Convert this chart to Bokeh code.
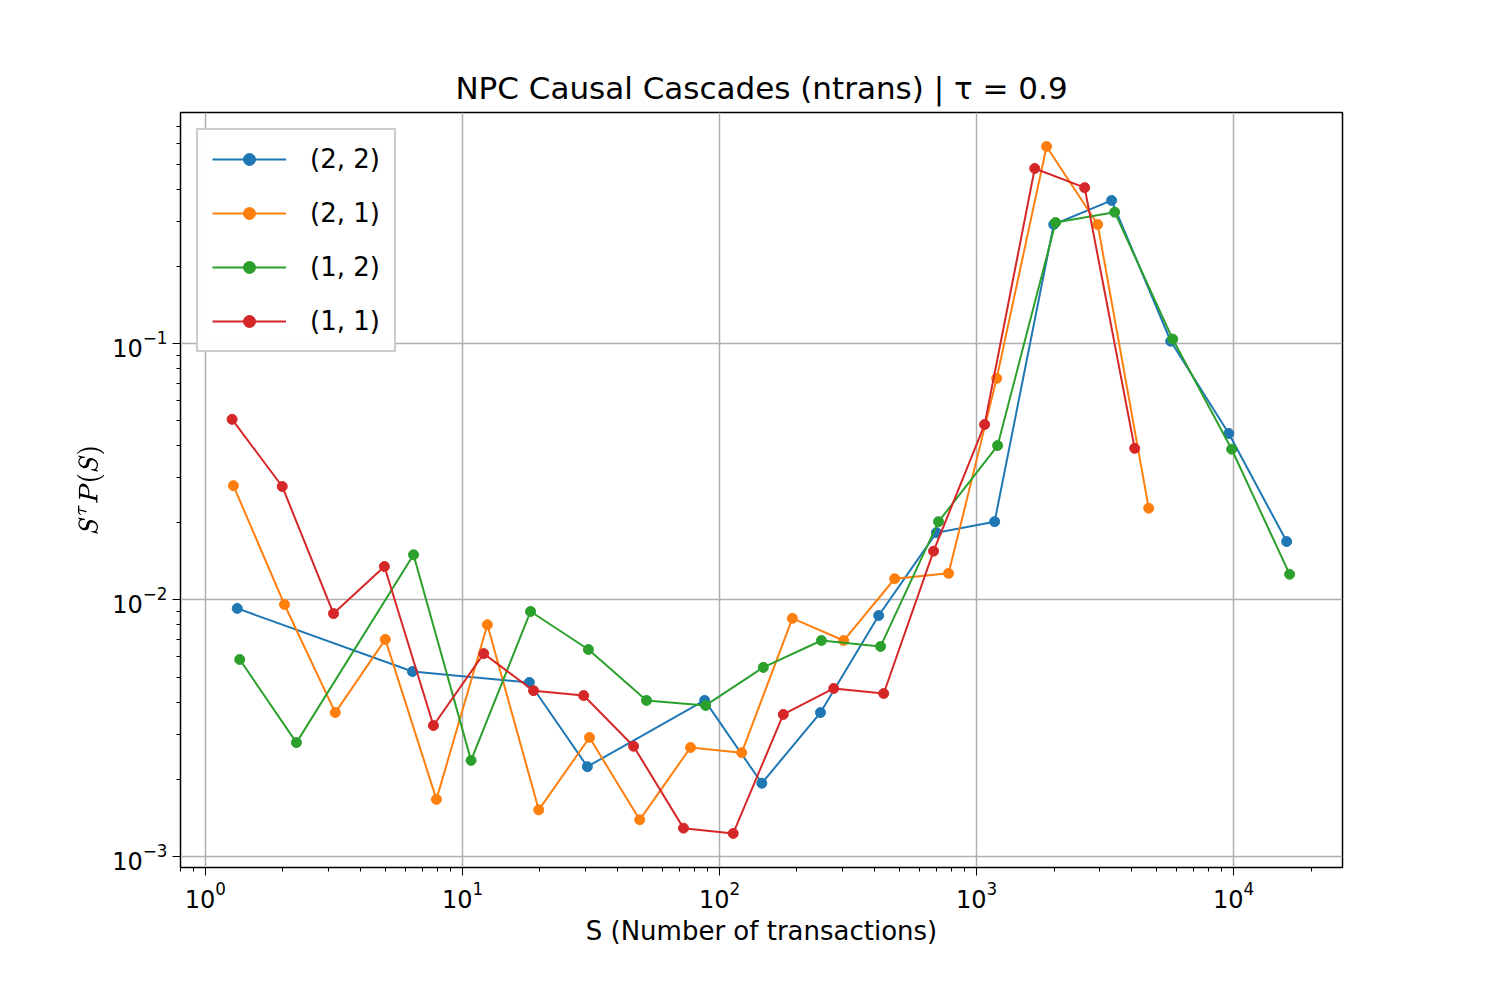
from bokeh.plotting import figure
from bokeh.models import Legend, LegendItem
from bokeh.embed import file_html
from bokeh.resources import INLINE

# (2,2)
s_22 = [1.33, 6.39, 18.2, 30.6, 87.5, 146, 247, 416, 698, 1175, 1995, 3350, 5690, 9570, 16070]
p_22 = [0.00927, 0.00526, 0.00477, 0.00224, 0.00406, 0.00193, 0.00364, 0.0087, 0.0183, 0.0202, 0.291, 0.361, 0.102, 0.0446, 0.0169]
# (2,1)
s_21 = [1.285, 2.03, 3.2, 5.01, 7.92, 12.5, 19.8, 31.2, 48.9, 77.1, 122, 192, 304, 480, 778, 1197, 1871, 2958, 4670]
p_21 = [0.0279, 0.0096, 0.00364, 0.00702, 0.00167, 0.00801, 0.00152, 0.00291, 0.00139, 0.00266, 0.00254, 0.00848, 0.00695, 0.0121, 0.0127, 0.0731, 0.586, 0.291, 0.0228]
# (1,2)
s_12 = [1.36, 2.26, 6.45, 10.8, 18.4, 30.9, 52, 88.3, 148, 249, 423, 711, 1207, 2028, 3443, 5790, 9820, 16500]
p_12 = [0.00586, 0.00278, 0.0150, 0.00237, 0.00902, 0.00641, 0.00406, 0.00388, 0.00546, 0.00695, 0.00659, 0.0202, 0.040, 0.296, 0.325, 0.104, 0.0387, 0.0126]
# (1,1)
s_11 = [1.27, 1.99, 3.15, 4.97, 7.71, 12.1, 18.9, 29.6, 46.3, 72.4, 113, 177, 278, 435, 680, 1074, 1683, 2632, 4120]
p_11 = [0.0506, 0.0277, 0.00885, 0.0135, 0.00324, 0.00618, 0.00443, 0.00424, 0.00269, 0.00129, 0.00123, 0.00358, 0.00452, 0.00432, 0.0155, 0.0483, 0.481, 0.405, 0.039]

series = [("(2, 2)", s_22, p_22, "#1f77b4"),
          ("(2, 1)", s_21, p_21, "#ff7f0e"),
          ("(1, 2)", s_12, p_12, "#2ca02c"),
          ("(1, 1)", s_11, p_11, "#d62728")]

p = figure(width=1480, height=980, x_axis_type="log", y_axis_type="log",
           x_range=(0.8, 26500), y_range=(9.06e-4, 0.795),
           output_backend="svg", toolbar_location=None,
           min_border_left=180, min_border_right=138, min_border_top=112, min_border_bottom=113,
           title="NPC Causal Cascades (ntrans) | τ = 0.9")
p.title.align = "center"
p.title.text_font = "DejaVu Sans"
p.title.text_font_size = "31px"
p.title.text_font_style = "normal"
p.title.text_color = "black"
p.title.offset = 0
p.title.standoff = 14

items = []
for name, xs, ys, c in series:
    l = p.line(xs, ys, line_color=c, line_width=2)
    d = p.scatter(xs, ys, size=10, fill_color=c, line_color=c)
    items.append(LegendItem(label=name, renderers=[l, d]))

leg = Legend(items=items, location="top_left")
leg.label_text_font = "DejaVu Sans"
leg.label_text_font_size = "26px"
leg.label_text_color = "black"
leg.label_standoff = 24
leg.border_line_color = "#cccccc"
leg.border_line_width = 2
leg.border_line_alpha = 1
leg.glyph_width = 74
leg.glyph_height = 30
leg.spacing = 24
leg.padding = 14
leg.margin = 16
p.add_layout(leg)

p.xaxis.axis_label = "S (Number of transactions)"
p.yaxis.axis_label = r"$$S^{\tau}P(S)$$"
for ax in (p.xaxis, p.yaxis):
    ax.axis_label_text_font = "DejaVu Sans"
    ax.axis_label_text_font_size = "26px"
    ax.axis_label_text_font_style = "normal"
    ax.axis_label_text_color = "black"
    ax.major_label_text_font = "DejaVu Sans"
    ax.major_label_text_font_size = "24px"
    ax.major_label_text_color = "black"
    ax.axis_line_color = "black"
    ax.major_tick_line_color = "black"
    ax.minor_tick_line_color = "black"
    ax.major_tick_out = 8
    ax.major_tick_in = 0
    ax.minor_tick_out = 4
    ax.minor_tick_in = 0
p.yaxis.axis_label_text_font_size = "21px"
p.outline_line_color = "black"
p.outline_line_width = 1.5
p.grid.grid_line_color = "#b0b0b0"
p.grid.grid_line_width = 1.5

open("out.html", "w").write(file_html(p, INLINE))
